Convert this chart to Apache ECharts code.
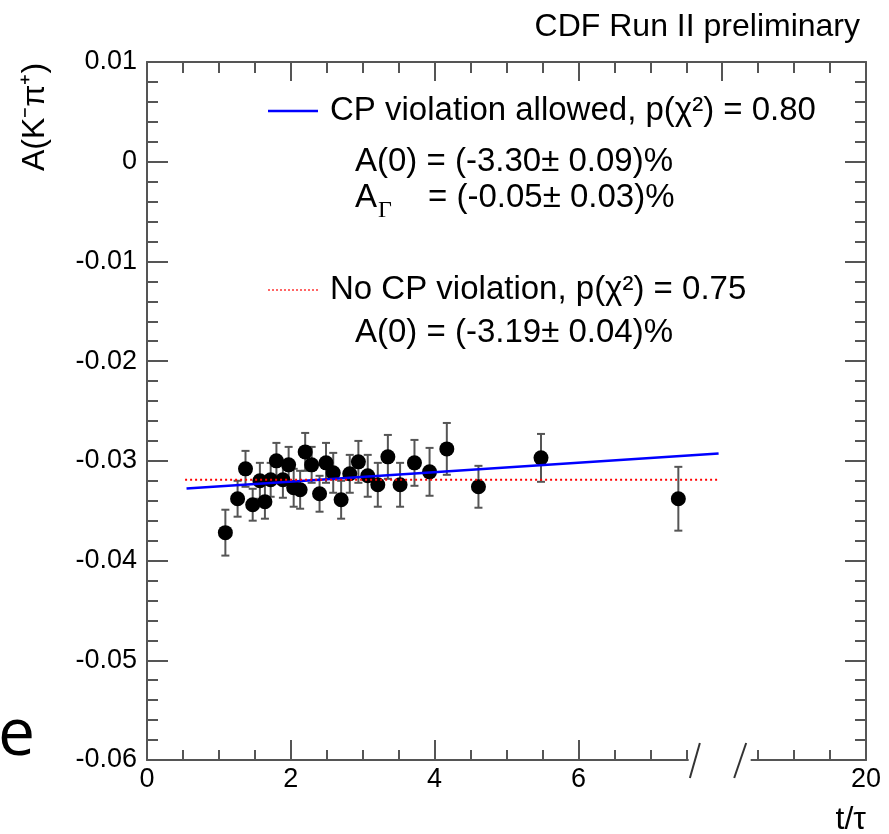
<!DOCTYPE html>
<html><head><meta charset="utf-8">
<script src="https://cdn.jsdelivr.net/npm/echarts@6/dist/echarts.min.js"></script>
<style>html,body{margin:0;padding:0;background:#fff}#c{width:889px;height:834px}</style>
</head><body><div id="c"></div>
<script>
// ---- data ----
const tValues = [1.09,1.26,1.37,1.47,1.57,1.64,1.72,1.80,1.89,1.97,2.04,2.13,2.20,2.29,2.40,2.49,2.59,2.70,2.82,2.94,3.07,3.21,3.35,3.52,3.72,3.93,4.17,4.61,5.48,7.39];
const asymValues = [-0.0372,-0.0338,-0.0308,-0.0344,-0.0320,-0.0341,-0.0319,-0.0300,-0.0319,-0.0304,-0.0327,-0.0329,-0.0291,-0.0304,-0.0333,-0.0302,-0.0312,-0.0339,-0.0313,-0.0301,-0.0315,-0.0324,-0.0296,-0.0324,-0.0302,-0.0311,-0.0288,-0.0326,-0.0297,-0.0338];
const asymErrors = [0.0023,0.0018,0.0018,0.0016,0.0018,0.0017,0.0017,0.0018,0.0018,0.0018,0.0019,0.0019,0.0019,0.0018,0.0018,0.0020,0.0020,0.0019,0.0019,0.0021,0.0021,0.0022,0.0022,0.0022,0.0023,0.0024,0.0026,0.0021,0.0024,0.0032];
const fitCPVx = [0.55, 7.95];
const fitCPVy = [-0.03276, -0.02925];
const fitNoCPVx = [0.53, 7.95];
const fitNoCPVy = [-0.0319, -0.0319];
const xTickLabels = {0:'0', 2:'2', 4:'4', 6:'6', 10:'20'};
const axisBreakT = [7.62, 8.25];

const FONT = 'Liberation Sans, Arial, Helvetica, sans-serif';
const AX = '#555';
const chart = echarts.init(document.getElementById('c'), null, {renderer:'canvas'});

const tickStyle = {color: AX, width: 2};
function xAx(pos, showLabel, majorLen, minorLen){
  return {
    type:'value', position:pos, min:0, max:10, interval:2,
    axisLine:{show:true, onZero:false, lineStyle:tickStyle},
    axisTick:{show:true, inside:true, length:majorLen, lineStyle:tickStyle},
    minorTick:{show:true, splitNumber:4, length:minorLen, lineStyle:tickStyle},
    splitLine:{show:false}, minorSplitLine:{show:false},
    axisLabel:{show:showLabel, fontFamily:FONT, fontSize:27, color:'#000', margin:6,
      formatter: v => (xTickLabels[v] !== undefined ? xTickLabels[v] : '')}
  };
}
function yAx(pos, showLabel){
  return {
    type:'value', position:pos, min:-0.06, max:0.01, interval:0.01,
    axisLine:{show:true, onZero:false, lineStyle:tickStyle},
    axisTick:{show:true, inside:true, length:21, lineStyle:tickStyle},
    minorTick:{show:true, splitNumber:5, length:11, lineStyle:tickStyle},
    splitLine:{show:false}, minorSplitLine:{show:false},
    axisLabel:{show:showLabel, fontFamily:FONT, fontSize:27, color:'#000', margin:10,
      formatter: v => String(+v.toFixed(2))}
  };
}

const points = tValues.map((t,i)=>[t, asymValues[i], asymErrors[i]]);

chart.setOption({
  animation:false,
  backgroundColor:'#fff',
  grid:{left:147, top:62, width:719, height:698, containLabel:false},
  xAxis:[xAx('bottom', true, 20, 10), xAx('top', false, 19, 11)],
  yAxis:[yAx('left', true), yAx('right', false)],
  series:[
    {
      type:'custom', xAxisIndex:0, yAxisIndex:0, z:2,
      data: points, encode:{x:0, y:1},
      renderItem:(params, api)=>{
        const x=api.value(0), y=api.value(1), e=api.value(2);
        const top=api.coord([x, y+e]), bot=api.coord([x, y-e]);
        const cw=4, st={stroke:'#555', lineWidth:2};
        return {type:'group', children:[
          {type:'line', shape:{x1:top[0],y1:top[1],x2:bot[0],y2:bot[1]}, style:st},
          {type:'line', shape:{x1:top[0]-cw,y1:top[1],x2:top[0]+cw,y2:top[1]}, style:st},
          {type:'line', shape:{x1:bot[0]-cw,y1:bot[1],x2:bot[0]+cw,y2:bot[1]}, style:st}
        ]};
      }
    },
    {
      type:'scatter', z:3, symbol:'circle', symbolSize:15,
      itemStyle:{color:'#000', opacity:1},
      emphasis:{disabled:true},
      data: points.map(p=>[p[0], p[1]])
    },
    {
      type:'line', z:4, showSymbol:false, symbol:'none',
      lineStyle:{color:'#0000ff', width:2.5},
      data: fitCPVx.map((x,i)=>[x, fitCPVy[i]])
    },
    {
      type:'line', z:4, showSymbol:false, symbol:'none',
      lineStyle:{color:'#ff0000', width:2, type:[2,3]},
      data: fitNoCPVx.map((x,i)=>[x, fitNoCPVy[i]])
    }
  ]
});

const bx0 = chart.convertToPixel({xAxisIndex:0}, axisBreakT[0]);
const bx1 = chart.convertToPixel({xAxisIndex:0}, axisBreakT[1]);
const axY = chart.convertToPixel({yAxisIndex:0}, -0.06);
const gx0 = chart.convertToPixel({xAxisIndex:0}, 7.52);
const gx1 = chart.convertToPixel({xAxisIndex:0}, 8.41);

function txt(x, y, s, size, align, extra){
  return Object.assign({type:'text', x:x, y:y, z:100,
    style:{text:s, fontFamily:FONT, fontSize:size, fill:'#000', align:align||'left', verticalAlign:'middle'}}, extra||{});
}

chart.setOption({
  graphic:[
    // axis break
    {type:'rect', z:50, shape:{x:gx0+1, y:axY-22, width:gx1-gx0-2, height:25}, style:{fill:'#fff'}},
    {type:'line', z:51, shape:{x1:bx0-5, y1:axY+18, x2:bx0+5, y2:axY-17}, style:{stroke:'#333', lineWidth:2}},
    {type:'line', z:51, shape:{x1:bx1-6, y1:axY+18, x2:bx1+6, y2:axY-17}, style:{stroke:'#333', lineWidth:2}},
    // titles
    txt(860, 27, 'CDF Run II preliminary', 32, 'right'),
    txt(866, 820, 't/τ', 32, 'right'),
    txt(35, 117, 'A(K⁻π⁺)', 32, 'center', {rotation: Math.PI/2}),
    // legend
    {type:'line', z:100, shape:{x1:268, y1:111, x2:318, y2:111}, style:{stroke:'#0000ff', lineWidth:2.5}},
    txt(330, 111, 'CP violation allowed, p(χ²) = 0.80', 33, 'left'),
    txt(355, 162, 'A(0) = (-3.30± 0.09)%', 33, 'left'),
    txt(355, 198, 'A', 33, 'left'),
    {type:'text', x:378, y:211, z:100, style:{text:'Γ', fontFamily:'Liberation Serif, serif', fontSize:24, fill:'#000', align:'left', verticalAlign:'middle'}},
    txt(428, 198, '= (-0.05± 0.03)%', 33, 'left'),
    {type:'line', z:100, shape:{x1:268, y1:290, x2:318, y2:290}, style:{stroke:'#ff6666', lineWidth:2, lineDash:[2,2]}},
    txt(330, 290, 'No CP violation, p(χ²) = 0.75', 33, 'left'),
    txt(355, 333, 'A(0) = (-3.19± 0.04)%', 33, 'left'),
    // stray glyph at left edge
    {type:'text', x:-2, y:736, z:100, style:{text:'e', fontFamily:'Open Sans, sans-serif', fontSize:66, fill:'#000', align:'left', verticalAlign:'middle'}}
  ]
});
</script>
</body></html>
